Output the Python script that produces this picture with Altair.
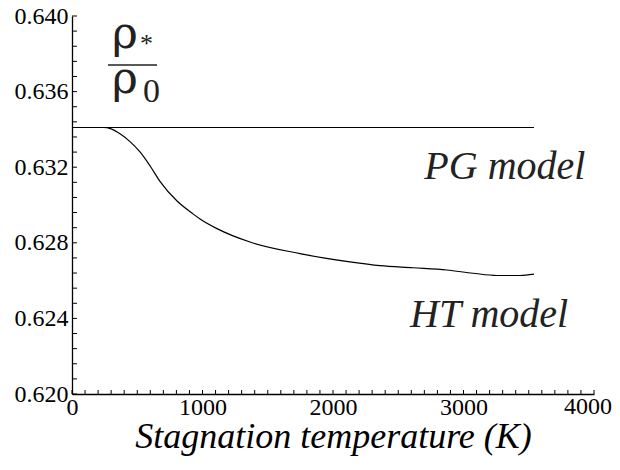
import altair as alt
import pandas as pd

# --- data ---
pg_T = [0, 3540]
pg_v = [0.6341, 0.6341]

ht_T = [0, 238, 300, 368, 440, 521, 600, 674, 805, 927, 981, 1111, 1364, 1747,
        2130, 2360, 2613, 2874, 3073, 3257, 3433, 3540]
ht_v = [0.6341, 0.6341, 0.63403, 0.63377, 0.63338, 0.63281, 0.63205, 0.63125,
        0.63021, 0.62953, 0.62926, 0.62875, 0.62804, 0.62743, 0.62699, 0.62679,
        0.62668, 0.62656, 0.62639, 0.62627, 0.62627, 0.62634]

x_labels = [0, 1000, 2000, 3000, 4000]
y_labels = [0.620, 0.624, 0.628, 0.632, 0.636, 0.640]
x_minor = [t * 100 for t in range(41)]
y_minor = [round(0.620 + k * 0.0008, 4) for k in range(26)]

label_text = ["PG model", "HT model"]
label_T = [2700, 2590]
label_v = [0.63135, 0.62354]

W, H = 522, 378
SERIF = "Liberation Serif"
GREEK = "DejaVu Serif"

lines_df = pd.DataFrame({
    "T": pg_T + ht_T,
    "v": pg_v + ht_v,
    "series": ["PG"] * len(pg_T) + ["HT"] * len(ht_T),
})

xscale = alt.Scale(domain=[0, 4000], nice=False, zero=False)
yscale = alt.Scale(domain=[0.620, 0.640], nice=False, zero=False)

xaxis = alt.Axis(values=x_labels, format="d", ticks=False, grid=False,
                 labelExpr="datum.value == 4000 ? '' : datum.label",
                 domainColor="black", domainWidth=1.3, labelFont=SERIF,
                 labelFontSize=24, labelColor="black", labelPadding=1,
                 labelFlush=False, labelOverlap=False,
                 title="Stagnation temperature (K)", titleFont=SERIF,
                 titleFontStyle="italic", titleFontWeight="normal",
                 titleFontSize=36, titleColor="black", titlePadding=0)
yaxis = alt.Axis(values=y_labels, format=".3f", ticks=False, grid=False,
                 domainColor="black", domainWidth=1.3, labelFont=SERIF,
                 labelFontSize=24, labelColor="black", labelPadding=4,
                 labelFlush=False, labelOverlap=False, title=None)

X = alt.X("T:Q", scale=xscale, axis=xaxis)
Y = alt.Y("v:Q", scale=yscale, axis=yaxis)

lines = alt.Chart(lines_df).mark_line(color="black", strokeWidth=1.2,
                                      interpolate="monotone").encode(
    x=X, y=Y, detail="series:N")

xt = alt.Chart(pd.DataFrame({"T": x_minor})).mark_rule(
    color="black", strokeWidth=1).encode(
    x=X, y=alt.value(H), y2=alt.value(H - 4))

yt = alt.Chart(pd.DataFrame({"v": y_minor})).mark_rule(
    color="black", strokeWidth=1).encode(
    y=Y, x=alt.value(0), x2=alt.value(5))

# last x tick label, nudged left so that it stays inside the page
last_lab = alt.Chart(pd.DataFrame({"T": [4000], "t": ["4000"]})).mark_text(
    font=SERIF, fontSize=24, color="black", align="center", baseline="top",
    dx=-6).encode(x=X, y=alt.value(H + 1), text="t:N")

labels = alt.Chart(pd.DataFrame({"T": label_T, "v": label_v, "t": label_text})).mark_text(
    font=SERIF, fontStyle="italic", fontSize=40, color="#222222",
    align="left", baseline="alphabetic").encode(x=X, y=Y, text="t:N")

# fraction rho_* / rho_0
rho_num = alt.Chart(pd.DataFrame({"t": ["ρ"]})).mark_text(
    font=GREEK, fontSize=44, color="#222222",
    align="center", baseline="alphabetic").encode(
    x=alt.value(53), y=alt.value(32), text="t:N")
star = alt.Chart(pd.DataFrame({"t": ["*"]})).mark_text(
    font=SERIF, fontSize=26, color="#222222",
    align="left", baseline="middle").encode(
    x=alt.value(68), y=alt.value(28), text="t:N")
bar = alt.Chart(pd.DataFrame({"t": [1]})).mark_rule(
    color="#222222", strokeWidth=1.3).encode(
    x=alt.value(36), x2=alt.value(85), y=alt.value(49))
rho_den = alt.Chart(pd.DataFrame({"t": ["ρ"]})).mark_text(
    font=GREEK, fontSize=44, color="#222222",
    align="center", baseline="alphabetic").encode(
    x=alt.value(53), y=alt.value(77), text="t:N")
zero = alt.Chart(pd.DataFrame({"t": ["0"]})).mark_text(
    font=SERIF, fontSize=34, color="#222222",
    align="left", baseline="alphabetic").encode(
    x=alt.value(71), y=alt.value(86), text="t:N")

chart = alt.layer(lines, xt, yt, last_lab, labels, rho_num, star, bar, rho_den, zero).properties(
    width=W, height=H,
    autosize=alt.AutoSizeParams(type="none"),
    padding={"left": 64, "top": 8, "right": 18, "bottom": 64},
).configure_view(stroke=None)

chart.save("out.html", embed_options={"renderer": "svg", "actions": False})
